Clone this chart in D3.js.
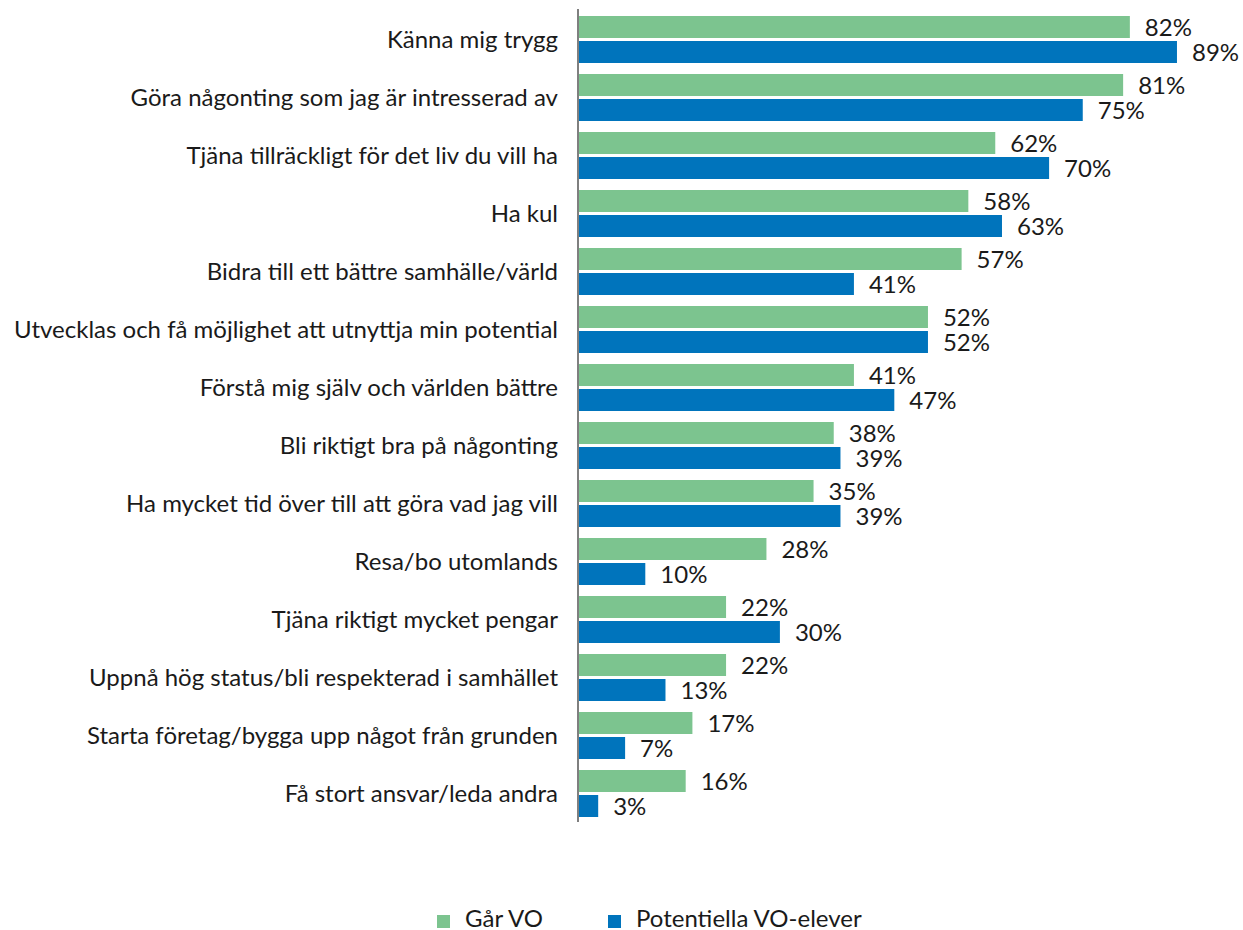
<html lang="sv">
<head>
<meta charset="utf-8">
<script src="https://d3js.org/d3.v7.min.js"></script>
<style>
  body { margin: 0; background: #fff; }
  text { font-family: 'Lato', sans-serif; fill: #1a1a1a; }
</style>
</head>
<body>
<script>
// data
var categories = [
  "Känna mig trygg",
  "Göra någonting som jag är intresserad av",
  "Tjäna tillräckligt för det liv du vill ha",
  "Ha kul",
  "Bidra till ett bättre samhälle/värld",
  "Utvecklas och få möjlighet att utnyttja min potential",
  "Förstå mig själv och världen bättre",
  "Bli riktigt bra på någonting",
  "Ha mycket tid över till att göra vad jag vill",
  "Resa/bo utomlands",
  "Tjäna riktigt mycket pengar",
  "Uppnå hög status/bli respekterad i samhället",
  "Starta företag/bygga upp något från grunden",
  "Få stort ansvar/leda andra"
];
var garVO =       [82, 81, 62, 58, 57, 52, 41, 38, 35, 28, 22, 22, 17, 16];
var potentiella = [89, 75, 70, 63, 41, 52, 47, 39, 39, 10, 30, 13, 7, 3];
var seriesNames = ["Går VO", "Potentiella VO-elever"];
var seriesColors = ["#7cc48f", "#0074bc"];

var width = 1243, height = 930;
var axisX = 578;
var fontSize = "24px";

var svg = d3.select("body").append("svg")
  .attr("width", width)
  .attr("height", height);

var x = d3.scaleLinear().domain([0, 100]).range([axisX, axisX + 673]);

var y = d3.scaleBand()
  .domain(categories)
  .range([16, 817])
  .paddingInner(11 / 58)
  .paddingOuter(0);

var inner = d3.scaleBand()
  .domain([0, 1])
  .range([0, y.bandwidth()])
  .paddingInner(0.12)
  .paddingOuter(0);

var rows = categories.map(function(c, i) {
  return { cat: c, vals: [garVO[i], potentiella[i]] };
});

var groups = svg.selectAll("g.group")
  .data(rows)
  .enter().append("g")
  .attr("class", "group")
  .attr("transform", function(d) { return "translate(0," + y(d.cat) + ")"; });

groups.selectAll("rect")
  .data(function(d) { return d.vals; })
  .enter().append("rect")
  .attr("x", x(0) + 1)
  .attr("y", function(d, i) { return inner(i); })
  .attr("width", function(d) { return x(d) - x(0) - 1; })
  .attr("height", inner.bandwidth())
  .attr("fill", function(d, i) { return seriesColors[i]; });

groups.selectAll("text.val")
  .data(function(d) { return d.vals; })
  .enter().append("text")
  .attr("class", "val")
  .attr("x", function(d) { return x(d) + 15; })
  .attr("y", function(d, i) { return inner(i) + inner.bandwidth() / 2; })
  .attr("dy", "0.36em")
  .attr("font-size", fontSize)
  .text(function(d) { return d + "%"; });

// category labels
svg.selectAll("text.cat")
  .data(categories)
  .enter().append("text")
  .attr("class", "cat")
  .attr("x", axisX - 20)
  .attr("y", function(d) { return y(d) + y.bandwidth() / 2; })
  .attr("dy", "0.36em")
  .attr("text-anchor", "end")
  .attr("font-size", fontSize)
  .text(function(d) { return d; });

// vertical axis line
svg.append("line")
  .attr("x1", axisX).attr("x2", axisX)
  .attr("y1", 9).attr("y2", 822)
  .attr("stroke", "#7f7f7f")
  .attr("stroke-width", 2);

// legend
var legendX = [437, 608];
var legend = svg.selectAll("g.legend")
  .data(seriesNames)
  .enter().append("g")
  .attr("class", "legend")
  .attr("transform", function(d, i) { return "translate(" + legendX[i] + ",915)"; });

legend.append("rect")
  .attr("width", 13).attr("height", 13)
  .attr("fill", function(d, i) { return seriesColors[i]; });

legend.append("text")
  .attr("x", 28)
  .attr("y", 12)
  .attr("font-size", fontSize)
  .text(function(d) { return d; });
</script>
</body>
</html>
